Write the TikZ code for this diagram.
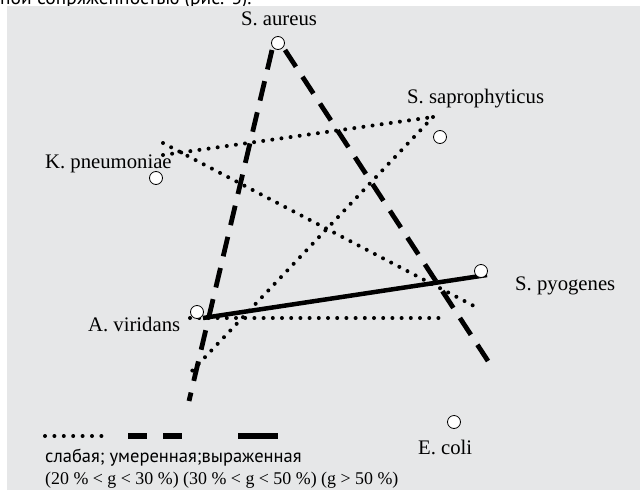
\documentclass[tikz,border=0pt]{standalone}
\usepackage{fontspec}
\setmainfont{Liberation Serif}
\newfontfamily\cyrsans{PT Sans}
\usepackage{xcolor}
\definecolor{panelgray}{HTML}{E6E7E8}
\tikzset{
  strain/.style={circle, draw=black, line width=0.8pt, fill=white, minimum size=13pt, inner sep=0pt},
  weak/.style={line width=4pt, line cap=round, dash pattern=on 0pt off 9.2pt},
  moderate/.style={line width=4.8pt, dash pattern=on 20pt off 12pt},
  strong/.style={line width=4.5pt},
}

\begin{document}
\begin{tikzpicture}[x=1pt, y=-1pt, every node/.style={font=\fontsize{20.7}{24}\selectfont}]
\useasboundingbox (0,0) rectangle (640,490);
% Caption line cut off at the top
\node[anchor=base west, inner sep=0pt, font=\cyrsans\fontsize{19.5}{22}\selectfont] (caption) at (0,4) {ной сопряженностью (рис. 3).};
\fill[panelgray] (7,6) rectangle (640,490);

% Ends of the links
\coordinate (aur-l) at (272,50);
\coordinate (aur-r) at (285,50);
\coordinate (sap-e) at (433,117);
\coordinate (kpn-u) at (163,143);
\coordinate (kpn-d) at (163,155);
\coordinate (pyo-s) at (487,275);
\coordinate (pyo-w) at (474,306);
\coordinate (vir-s) at (203,318);
\coordinate (vir-w) at (190,318);
\coordinate (end-h) at (447,318);
\coordinate (end-d) at (190,373);
\coordinate (end-l) at (189,401);
\coordinate (end-r) at (488,361);

% Weak links
\draw[weak] (kpn-d) -- (sap-e);
\draw[weak] (kpn-u) -- (pyo-w);
\draw[weak] (sap-e) -- (end-d);
\draw[weak] (vir-w) -- (end-h);

% Moderate links
\draw[moderate] (aur-l) -- (end-l);
\draw[moderate] (aur-r) -- (end-r);

% Strong link
\draw[strong] (vir-s) -- (pyo-s);

% Strains
\node[strain] (aur) at (278,43) {};
\node[strain] (sap) at (440,137) {};
\node[strain] (kpn) at (156,178) {};
\node[strain] (pyo) at (481,271) {};
\node[strain] (vir) at (197,312) {};
\node[strain] (eco) at (454,422) {};

\node[anchor=base] (aur-t) at (279,25) {S. aureus};
\node[anchor=base west, inner sep=0pt] (sap-t) at (407,103) {S. saprophyticus};
\node[anchor=base west, inner sep=0pt] (kpn-t) at (45,168) {K. pneumoniae};
\node[anchor=base west, inner sep=0pt] (pyo-t) at (515,290) {S. pyogenes};
\node[anchor=base west, inner sep=0pt] (vir-t) at (88,331) {A. viridans};
\node[anchor=base west, inner sep=0pt] (eco-t) at (418,454) {E. coli};

% Legend
\coordinate (lg-w1) at (45,436);
\coordinate (lg-w2) at (102,436);
\coordinate (lg-m1) at (128,436);
\coordinate (lg-m2) at (183,436);
\coordinate (lg-s1) at (238,436);
\coordinate (lg-s2) at (278,436);
\draw[weak, dash pattern=on 0pt off 9.4pt] (lg-w1) -- (lg-w2);
\draw[moderate, line width=5.5pt, dash pattern=on 18.5pt off 16.5pt] (lg-m1) -- (lg-m2);
\draw[strong, line width=5.5pt] (lg-s1) -- (lg-s2);
\node[anchor=base west, inner sep=0pt, font=\cyrsans\fontsize{18.5}{22}\selectfont] (lg-t1) at (45,462) {слабая; умеренная;выраженная};
\node[anchor=base west, inner sep=0pt, font=\fontsize{17.9}{22}\selectfont] (lg-t2) at (45,484) {(20 \% < g < 30 \%) (30 \% < g < 50 \%) (g > 50 \%)};
\end{tikzpicture}
\end{document}
